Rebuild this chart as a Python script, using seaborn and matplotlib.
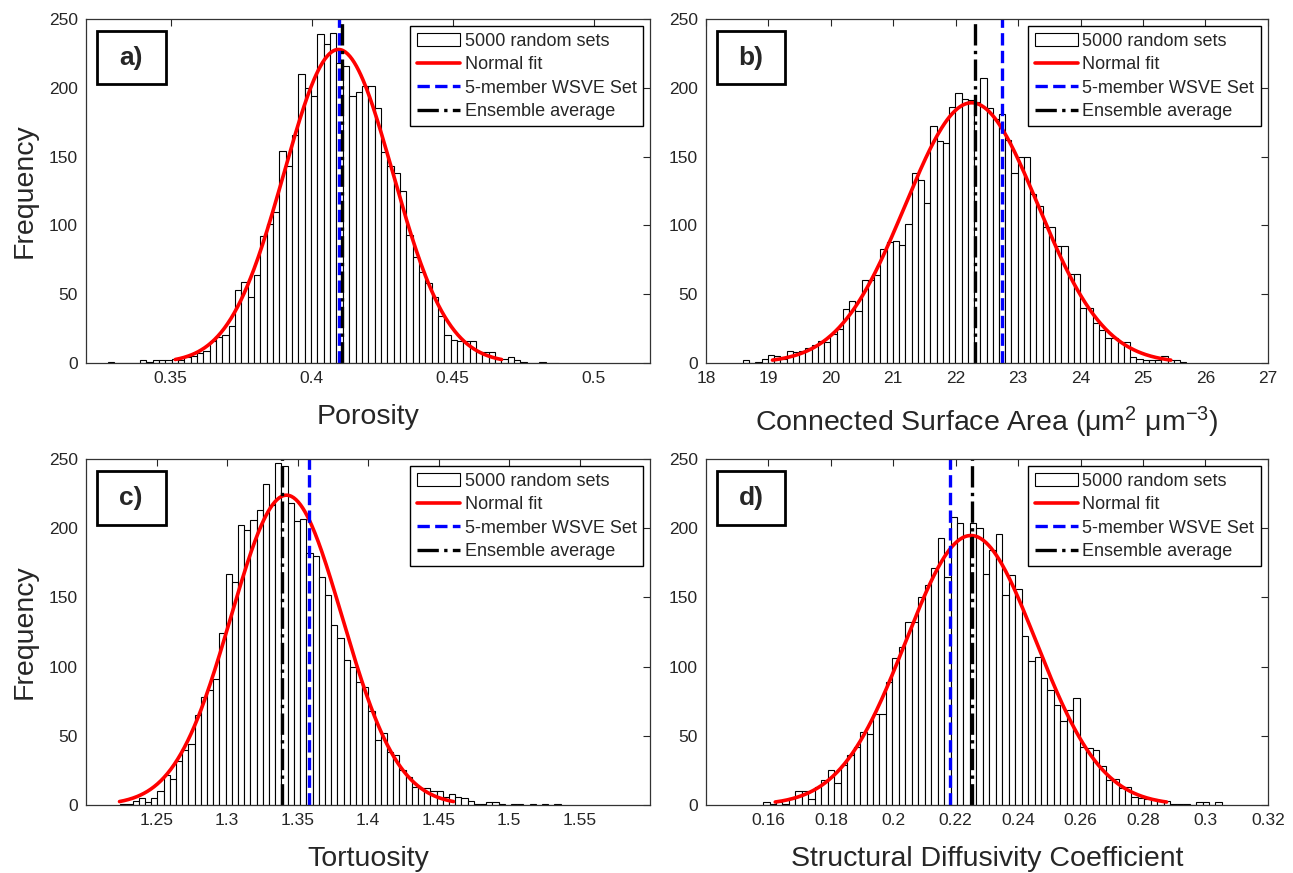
import numpy as np
import pandas as pd
import seaborn as sns
import matplotlib
matplotlib.use("Agg")
import matplotlib.pyplot as plt
from matplotlib.patches import Patch, Rectangle
from matplotlib.lines import Line2D

# ---- data (71 bins per histogram) ----
porosity_start = 0.3278
porosity_width = 0.00225
porosity_counts = [1, 0, 0, 0, 0, 2, 1, 2, 2, 2, 3, 2, 4, 5, 7, 9, 16, 19,
                   20, 27, 53, 59, 48, 64, 92, 101, 110, 154, 143, 166, 210, 200, 194,
                   239, 232, 240, 218, 216, 194, 197, 201,
                   201, 185, 153, 143, 138, 125, 93, 77, 66, 58, 48, 34, 20, 17, 16, 16,
                   16, 8, 8, 8, 3, 3, 4, 2, 1, 0, 0, 1, 0, 0]
porosity_wsve = 0.4098
porosity_ens = 0.4107

area_start = 18.593
area_width = 0.1
area_counts = [2, 0, 1, 3, 6, 5, 3, 9, 8, 9, 11, 13, 16, 15, 21, 25, 39, 45, 38, 60,
               60, 64, 83, 88, 89, 86, 101, 138, 133, 116, 172, 161, 160, 186, 196, 192,
               191, 190, 207, 185, 177, 181, 162, 138, 150, 150, 123, 114, 99, 99, 85,
               85, 65, 65, 40, 40, 29, 24, 18, 18, 15, 15, 4, 3, 2, 2, 2, 5, 2, 2, 1]
area_wsve = 22.74
area_ens = 22.31

tort_start = 1.2242
tort_width = 0.0044
tort_counts = [1, 1, 3, 5, 2, 5, 10, 22, 19, 32, 40, 44, 65, 78, 83, 91, 124, 167, 161, 202,
               199, 206, 213, 232, 217, 247, 245, 218, 205, 207, 182, 180, 165, 152, 130,
               121, 105, 100, 89, 85, 68, 47, 52, 38, 36, 25, 20, 13, 12, 12, 10, 10, 6, 8,
               6, 5, 3, 1, 1, 2, 2, 1, 0, 1, 1, 0, 1, 0, 1, 0, 1]
tort_wsve = 1.358
tort_ens = 1.339

diff_start = 0.1583
diff_width = 0.00207
diff_counts = [2, 1, 2, 1, 5, 10, 10, 4, 13, 18, 25, 16, 29, 36, 42, 53, 51, 66, 66, 89,
               106, 114, 132, 132, 150, 159, 171, 193, 165, 208, 204, 195, 204, 200, 167,
               184, 196, 152, 166, 156, 122, 104, 107, 92, 83, 72, 61, 69, 77, 42, 41, 40,
               28, 18, 19, 12, 13, 6, 5, 4, 4, 3, 3, 1, 1, 1, 0, 2, 2, 0, 2]
diff_wsve = 0.2182
diff_ens = 0.2253

legend_labels = ["5000 random sets", "Normal fit", "5-member WSVE Set", "Ensemble average"]

sns.set_style("white")
plt.rcParams["font.family"] = ["Liberation Sans", "DejaVu Sans"]
plt.rcParams["mathtext.default"] = "regular"


def draw_panel(ax, start, width, counts, wsve, ens, xlim, xticks, xticklabels,
               xlabel, tag, ylabel):
    counts = np.array(counts, dtype=float)
    nb = len(counts)
    centers = start + width * (np.arange(nb) + 0.5)
    df = pd.DataFrame({"value": centers, "count": counts})
    sns.histplot(data=df, x="value", weights="count", bins=nb,
                 binrange=(start, start + width * nb), ax=ax,
                 color="white", edgecolor="black", linewidth=0.8, alpha=1)

    # normal fit from the binned data, drawn over mu +/- 3 sigma
    n = counts.sum()
    mu = (centers * counts).sum() / n
    sd = np.sqrt((counts * (centers - mu) ** 2).sum() / (n - 1))
    xs = np.linspace(mu - 3 * sd, mu + 3 * sd, 300)
    ys = n * width * np.exp(-0.5 * ((xs - mu) / sd) ** 2) / (sd * np.sqrt(2 * np.pi))
    sns.lineplot(x=xs, y=ys, ax=ax, color="red", linewidth=2.6)

    ax.axvline(wsve, color="blue", linestyle="--", linewidth=2.4)
    ax.axvline(ens, color="black", linestyle="-.", linewidth=2.4)

    ax.set_xlim(*xlim)
    ax.set_ylim(0, 250)
    ax.set_xticks(xticks)
    ax.set_xticklabels(xticklabels)
    ax.set_yticks(range(0, 251, 50))
    ax.tick_params(direction="in", top=True, right=True, length=5, width=0.8,
                   labelsize=12.5, pad=6)
    for s in ax.spines.values():
        s.set_color("#333333")
        s.set_linewidth(0.9)
    ax.set_xlabel(xlabel, fontsize=20.5, labelpad=13)
    ax.set_ylabel(ylabel, fontsize=20.5, labelpad=8)

    handles = [Patch(facecolor="white", edgecolor="black", linewidth=0.8),
               Line2D([], [], color="red", linewidth=2.6),
               Line2D([], [], color="blue", linestyle="--", linewidth=2.4),
               Line2D([], [], color="black", linestyle="-.", linewidth=2.4)]
    leg = ax.legend(handles, legend_labels, loc="upper right", fontsize=13,
                    frameon=True, fancybox=False, edgecolor="black", framealpha=1,
                    borderaxespad=0.4, handlelength=2.4, labelspacing=0.36,
                    borderpad=0.35, handletextpad=0.25)
    leg.get_frame().set_linewidth(1.0)

    ax.add_patch(Rectangle((0.019, 0.81), 0.122, 0.155, transform=ax.transAxes,
                           fill=False, edgecolor="black", linewidth=2, zorder=5))
    ax.text(0.08, 0.888, tag, transform=ax.transAxes, ha="center", va="center",
            fontsize=19, fontweight="bold", zorder=6)


fig = plt.figure(figsize=(12.93, 8.73), dpi=100)
W, H = 0.4346, 0.394
ax_a = fig.add_axes([0.0666, 0.5842, W + 0.0015, H])
ax_b = fig.add_axes([0.546, 0.5842, W, H])
ax_c = fig.add_axes([0.0666, 0.0779, W + 0.0015, 0.3963])
ax_d = fig.add_axes([0.546, 0.0779, W, 0.3963])

draw_panel(ax_a, porosity_start, porosity_width, porosity_counts, porosity_wsve,
           porosity_ens, (0.32, 0.52), [0.35, 0.4, 0.45, 0.5],
           ["0.35", "0.4", "0.45", "0.5"], "Porosity", "a)", "Frequency")
draw_panel(ax_b, area_start, area_width, area_counts, area_wsve, area_ens,
           (18, 27), list(range(18, 28)), [str(v) for v in range(18, 28)],
           "Connected Surface Area (\u03bcm$^{2}$ \u03bcm$^{-3}$)", "b)", "")
draw_panel(ax_c, tort_start, tort_width, tort_counts, tort_wsve, tort_ens,
           (1.2, 1.6), [1.25, 1.3, 1.35, 1.4, 1.45, 1.5, 1.55],
           ["1.25", "1.3", "1.35", "1.4", "1.45", "1.5", "1.55"],
           "Tortuosity", "c)", "Frequency")
draw_panel(ax_d, diff_start, diff_width, diff_counts, diff_wsve, diff_ens,
           (0.14, 0.32), [0.16, 0.18, 0.2, 0.22, 0.24, 0.26, 0.28, 0.3, 0.32],
           ["0.16", "0.18", "0.2", "0.22", "0.24", "0.26", "0.28", "0.3", "0.32"],
           "Structural Diffusivity Coefficient", "d)", "")

fig.savefig("out.png", dpi=100, facecolor="white")
